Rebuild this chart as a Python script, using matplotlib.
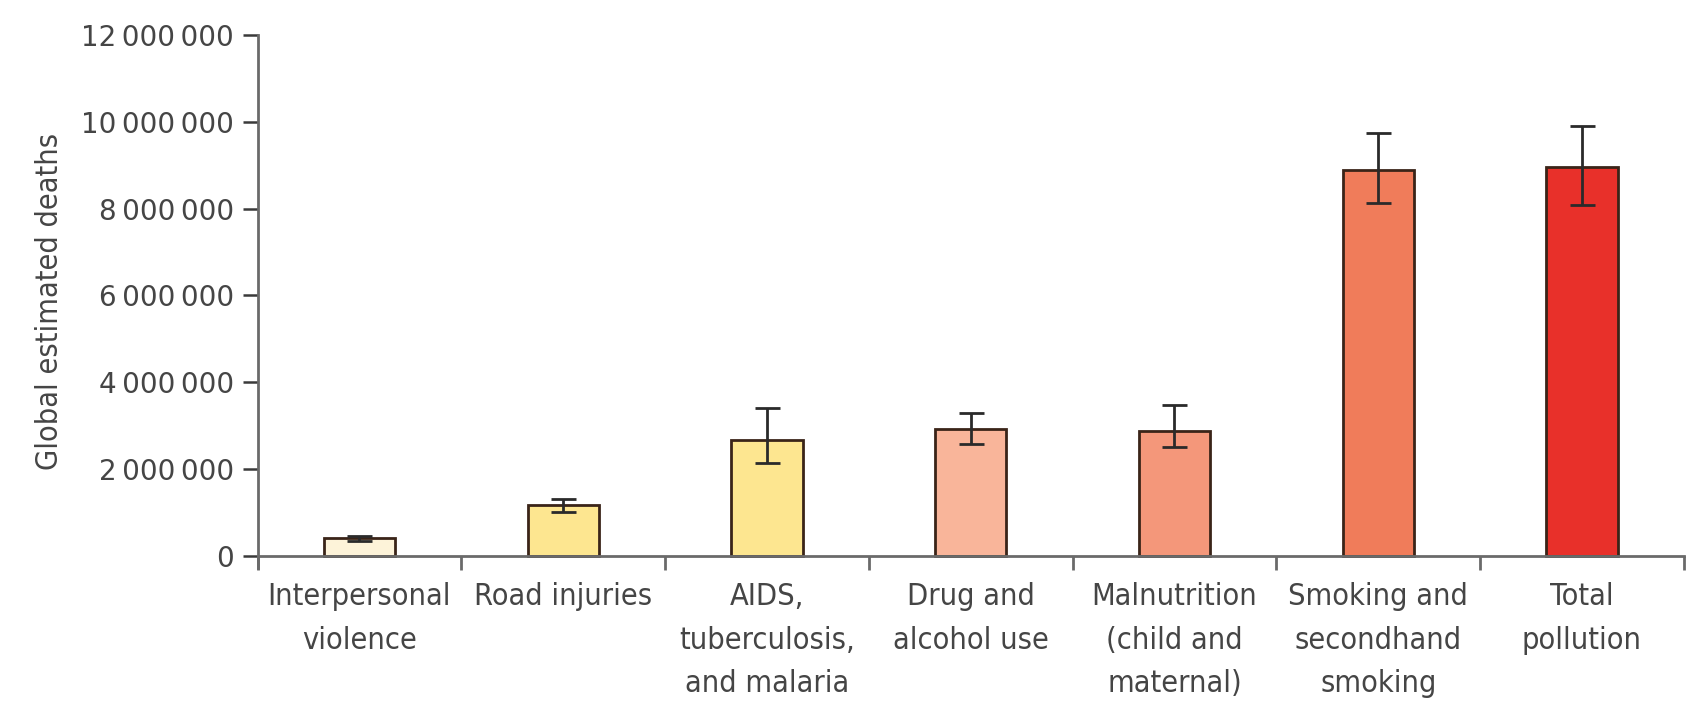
import matplotlib
matplotlib.use("Agg")
import matplotlib.pyplot as plt
import numpy as np

categories = ["Interpersonal\nviolence", "Road injuries", "AIDS,\ntuberculosis,\nand malaria",
              "Drug and\nalcohol use", "Malnutrition\n(child and\nmaternal)",
              "Smoking and\nsecondhand\nsmoking", "Total\npollution"]
deaths = [400000, 1170000, 2660000, 2930000, 2880000, 8900000, 8950000]
err_low = [350000, 1000000, 2150000, 2580000, 2500000, 8130000, 8080000]
err_high = [450000, 1310000, 3400000, 3280000, 3480000, 9740000, 9900000]
colors = ["#FDF3D9", "#FDE690", "#FDE690", "#F9B59A", "#F4977A", "#F07C5A", "#E8302A"]
yticks = [0, 2000000, 4000000, 6000000, 8000000, 10000000, 12000000]

txt = "#454545"

fig = plt.figure(figsize=(17.06, 7.14), dpi=100)
ax = fig.add_axes([0.151, 0.2045, 0.836, 0.7465])

x = np.arange(len(categories))
yerr = np.array([np.array(deaths) - np.array(err_low), np.array(err_high) - np.array(deaths)])
ax.bar(x, deaths, width=0.35, color=colors, edgecolor="#3a2418", linewidth=2.0, zorder=2)
ax.errorbar(x, deaths, yerr=yerr, fmt="none", ecolor="#2a2a2a", elinewidth=2.0,
            capsize=9, capthick=2.0, zorder=3)

ax.set_xlim(-0.5, len(categories) - 0.5)
ax.set_ylim(-280000, 12000000)

for s in ["top", "right"]:
    ax.spines[s].set_visible(False)
ax.spines["bottom"].set_position(("data", 0))
for s in ["left", "bottom"]:
    ax.spines[s].set_color("#6a6a6a")
    ax.spines[s].set_linewidth(2.0)
ax.spines["left"].set_bounds(-280000, 12000000)

ax.set_yticks(yticks)
ax.set_yticklabels([f"{v:,}".replace(",", "\u2009") for v in yticks],
                   fontsize=20, color=txt, family="DejaVu Sans")
ax.tick_params(axis="y", length=11, width=1.8, color="#3a3a3a", pad=6)

ax.set_xticks(x)
ax.set_xticklabels(categories, fontsize=22, color=txt, family="DejaVu Sans",
                   fontstretch="condensed", linespacing=1.63, va="top")
ax.set_xticks(np.arange(len(categories) + 1) - 0.5, minor=True)
ax.tick_params(axis="x", which="major", length=0, pad=19)
ax.tick_params(axis="x", which="minor", length=10, width=2.0, color="#6a6a6a", direction="out")

ax.set_ylabel("Global estimated deaths", fontsize=22, color=txt, family="DejaVu Sans",
              fontstretch="condensed", labelpad=12)

fig.savefig("out.png", dpi=100, facecolor="white")
